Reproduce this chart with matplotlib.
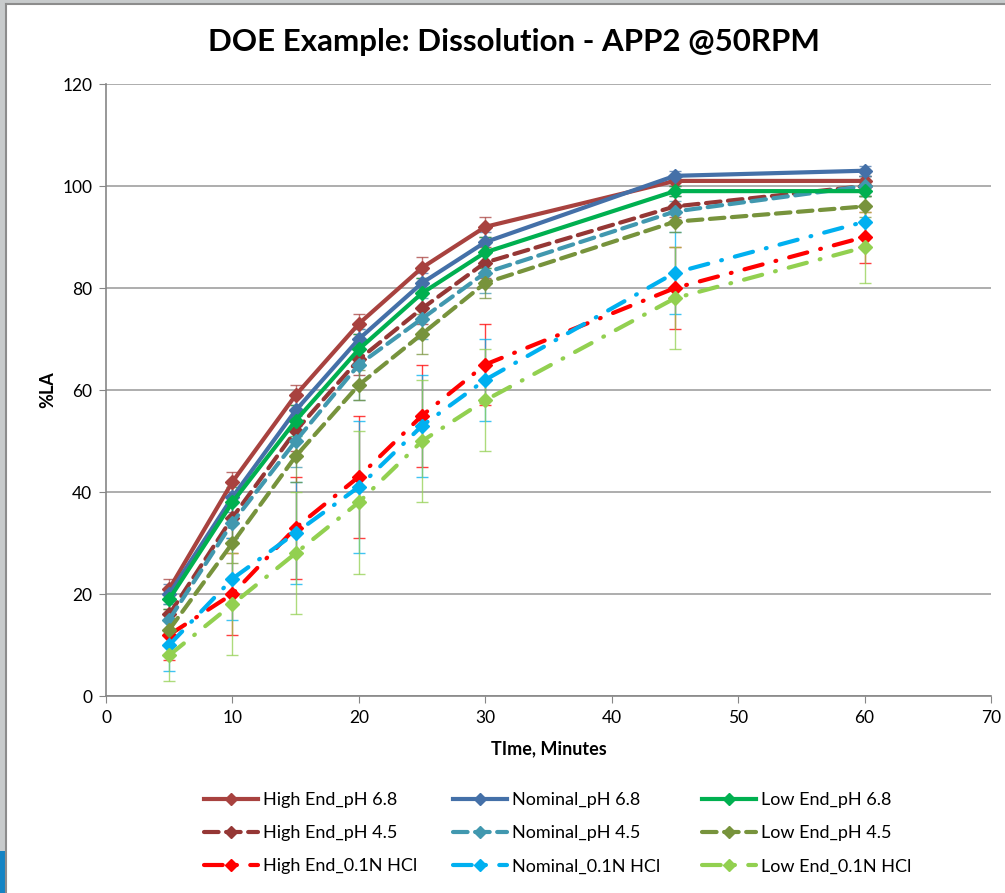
import matplotlib.pyplot as plt
from matplotlib.patches import Rectangle
from matplotlib.lines import Line2D

plt.rcParams['font.family'] = ['Lato', 'DejaVu Sans']

# sampling times (minutes)
times = [5, 10, 15, 20, 25, 30, 45, 60]

# mean %LA per formulation / medium
high_ph68 = [21, 42, 59, 73, 84, 92, 101, 101]
nom_ph68 = [20, 39, 56, 70, 81, 89, 102, 103]
low_ph68 = [19, 38, 54, 68, 79, 87, 99, 99]
high_ph45 = [16, 35, 52, 66, 76, 85, 96, 100]
nom_ph45 = [15, 34, 50, 65, 74, 83, 95, 100]
low_ph45 = [13, 30, 47, 61, 71, 81, 93, 96]
high_hcl = [12, 20, 33, 43, 55, 65, 80, 90]
nom_hcl = [10, 23, 32, 41, 53, 62, 83, 93]
low_hcl = [8, 18, 28, 38, 50, 58, 78, 88]

# +/- error for each point
err_high_ph68 = [2, 2, 2, 2, 2, 2, 1, 1]
err_nom_ph68 = [2, 3, 3, 2, 2, 2, 1, 1]
err_low_ph68 = [2, 3, 3, 3, 3, 3, 1, 1]
err_high_ph45 = [3, 4, 4, 3, 3, 3, 2, 2]
err_nom_ph45 = [3, 4, 5, 7, 4, 4, 2, 2]
err_low_ph45 = [3, 4, 5, 3, 4, 3, 2, 2]
err_high_hcl = [5, 8, 10, 12, 10, 8, 8, 5]
err_nom_hcl = [5, 8, 10, 13, 10, 8, 8, 3]
err_low_hcl = [5, 10, 12, 14, 12, 10, 10, 7]

solid = '-'
dash = (0, (3.5, 1.8))
dashdot = (0, (4.5, 3.2, 0.2, 3.2))

# grouped by legend column: High End, Nominal, Low End
columns = [
    [('High End_pH 6.8', high_ph68, err_high_ph68, '#A8423F', solid),
     ('High End_pH 4.5', high_ph45, err_high_ph45, '#953735', dash),
     ('High End_0.1N HCl', high_hcl, err_high_hcl, '#FF0000', dashdot)],
    [('Nominal_pH 6.8', nom_ph68, err_nom_ph68, '#4470A8', solid),
     ('Nominal_pH 4.5', nom_ph45, err_nom_ph45, '#4198AF', dash),
     ('Nominal_0.1N HCl', nom_hcl, err_nom_hcl, '#00B0F0', dashdot)],
    [('Low End_pH 6.8', low_ph68, err_low_ph68, '#00B050', solid),
     ('Low End_pH 4.5', low_ph45, err_low_ph45, '#77933C', dash),
     ('Low End_0.1N HCl', low_hcl, err_low_hcl, '#92D050', dashdot)],
]
legend_x = [204, 453, 702]

fig = plt.figure(figsize=(10.05, 8.93), dpi=100)
ax = fig.add_axes([0.1055, 0.2206, 0.8806, 0.6853])

for col_series, lx in zip(columns, legend_x):
    handles = []
    for name, vals, err, col, ls in col_series:
        ax.errorbar(times, vals, yerr=err, fmt='none', ecolor=col, elinewidth=1,
                    capsize=4, capthick=1, alpha=0.75, zorder=2)
        line, = ax.plot(times, vals, color=col, linestyle=ls, linewidth=3,
                        marker='D', markersize=7.5, zorder=3, label=name)
        line.set_dash_capstyle('round')
        h = Line2D([], [], color=col, linestyle=ls, linewidth=3,
                   marker='D', markersize=6, label=name)
        h.set_dash_capstyle('round')
        handles.append(h)
    leg = fig.legend(handles=handles, loc='upper left',
                     bbox_to_anchor=(lx / 1005, 1 - 792 / 893), frameon=False,
                     fontsize=13, handlelength=3.0, handletextpad=0.25,
                     labelspacing=0.95, borderaxespad=0, borderpad=0)

ax.set_xlim(0, 70)
ax.set_ylim(0, 120)
ax.set_xticks(range(0, 71, 10))
ax.set_yticks(range(0, 121, 20))
ax.tick_params(direction='out', length=5, color='#868686', labelsize=12.5, pad=5)
ax.yaxis.grid(True, color='#A0A0A0', linewidth=1.2)
ax.set_axisbelow(True)
for s in ('top', 'right'):
    ax.spines[s].set_visible(False)
for s in ('left', 'bottom'):
    ax.spines[s].set_color('#868686')
    ax.spines[s].set_linewidth(1.2)

fig.text(514 / 1005, 1 - 42 / 893, 'DOE Example: Dissolution - APP2 @50RPM',
         fontsize=22.5, fontweight='bold', ha='center', va='center')
ax.set_xlabel('TIme, Minutes', fontsize=13, fontweight='bold', labelpad=10)
ax.set_ylabel('%LA', fontsize=13, fontweight='bold', labelpad=4)

# window frame around the chart
fig.add_artist(Rectangle((0, 0), 6 / 1005, 1, transform=fig.transFigure,
                         facecolor='#C8CBCC', edgecolor='none'))
fig.add_artist(Rectangle((0, 1 - 4 / 893), 1, 4 / 893, transform=fig.transFigure,
                         facecolor='#C8CBCC', edgecolor='none'))
fig.add_artist(Rectangle((0, 0), 6 / 1005, 42 / 893, transform=fig.transFigure,
                         facecolor='#1484C4', edgecolor='none'))
fig.add_artist(Line2D([6 / 1005, 6 / 1005], [0, 1 - 4 / 893],
                      transform=fig.transFigure, color='#8C8C8C', linewidth=1.5))
fig.add_artist(Line2D([6 / 1005, 1], [1 - 4 / 893, 1 - 4 / 893],
                      transform=fig.transFigure, color='#8C8C8C', linewidth=1.5))

fig.savefig('out.png', dpi=100)
